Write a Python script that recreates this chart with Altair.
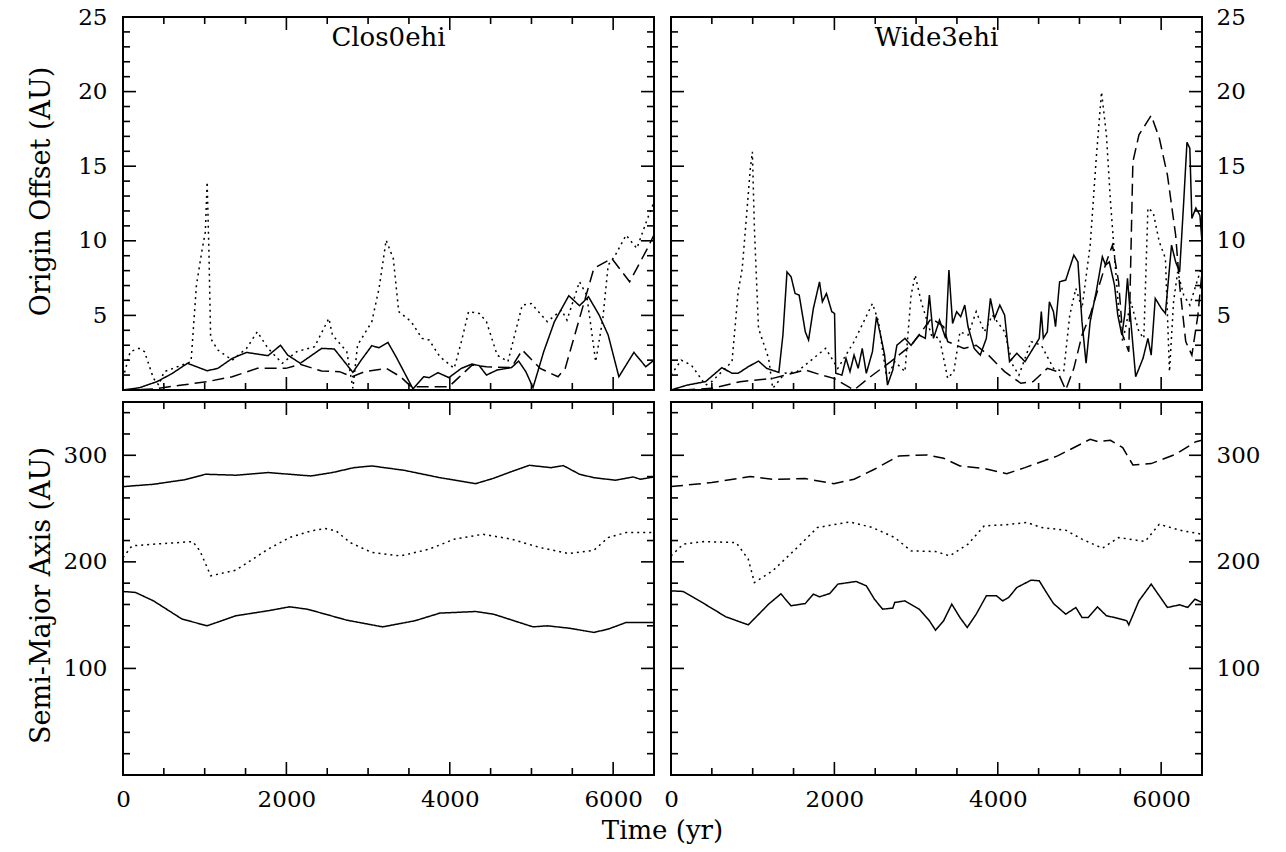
import altair as alt
import pandas as pd

# ---------------- data ----------------
X_DOMAIN = [0, 6500]
OFF_DOMAIN = [0, 25]
SMA_DOMAIN = [0, 350]

X_MAJOR = [0, 2000, 4000, 6000]
X_MINOR = [500, 1000, 1500, 2500, 3000, 3500, 4500, 5000, 5500, 6500]
OFF_MAJOR = [5, 10, 15, 20]
OFF_MINOR = [1, 2, 3, 4, 6, 7, 8, 9, 11, 12, 13, 14, 16, 17, 18, 19, 21, 22, 23, 24]
OFF_LABELS = [5, 10, 15, 20, 25]
SMA_MAJOR = [100, 200, 300]
SMA_MINOR = [20, 40, 60, 80, 120, 140, 160, 180, 220, 240, 260, 280, 320, 340]
SMA_LABELS = [100, 200, 300]

PANEL_TITLES = ["Clos0ehi", "Wide3ehi"]

# Clos0ehi, origin offset
C_OFF_SOLID_T = [0, 200, 416, 600, 789, 1030, 1161, 1337, 1512, 1775,
                 1928, 2016, 2170, 2432, 2586, 2814, 2915, 3046, 3134, 3243,
                 3353, 3550, 3682, 3747, 3857, 3989, 4142, 4273, 4361, 4449,
                 4580, 4755, 4843, 4931, 5019, 5150, 5281, 5457, 5588, 5698,
                 5829, 5939, 6070, 6158, 6254, 6399, 6500]
C_OFF_SOLID_V = [0, 0.15, 0.56, 1.1, 1.79, 1.29, 1.45, 2.12, 2.52, 2.3,
                 3.0, 2.34, 1.79, 2.79, 2.75, 1.18, 2.0, 2.97, 2.83, 3.19,
                 2.12, 0.07, 0.89, 0.83, 1.16, 0.83, 1.45, 1.74, 1.63, 1.0,
                 1.34, 1.5, 1.94, 1.23, 0.16, 2.57, 4.58, 6.32, 5.65, 6.25,
                 5.02, 3.68, 0.89, 1.67, 2.52, 1.56, 2.0]
C_OFF_DASH_T = [0, 373, 723, 1030, 1337, 1644, 1994, 2170, 2432, 2651,
                2805, 2958, 3221, 3397, 3528, 3660, 3989, 4098, 4273, 4449,
                4755, 4887, 5106, 5325, 5413, 5588, 5764, 5983, 6202, 6333,
                6421, 6500]
C_OFF_DASH_V = [0, 0.07, 0.33, 0.56, 0.89, 1.45, 1.45, 1.72, 1.27, 1.23,
                0.89, 1.23, 1.45, 0.89, 0.22, 0.22, 0.22, 0.78, 1.67, 1.56,
                1.5, 2.68, 1.45, 0.89, 1.45, 4.8, 8.15, 8.82, 7.25, 8.6,
                9.5, 10.4]
C_OFF_DOT_T = [0, 88, 197, 263, 373, 438, 504, 723, 833, 899,
               964, 1008, 1030, 1052, 1073, 1161, 1337, 1512, 1644, 1775,
               1950, 2126, 2345, 2520, 2564, 2739, 2814, 2871, 3046, 3134,
               3221, 3309, 3375, 3528, 3660, 3747, 3879, 4054, 4142, 4230,
               4361, 4449, 4580, 4712, 4887, 4997, 5194, 5369, 5435, 5588,
               5676, 5786, 5874, 5939, 6027, 6158, 6290, 6421, 6500]
C_OFF_DOT_V = [0.78, 2.57, 2.79, 2.57, 0.78, 0.33, 1.23, 1.67, 1.9, 7.03,
               9.26, 10.6, 13.95, 9.26, 3.46, 2.68, 2.0, 2.79, 3.9, 2.79,
               1.79, 2.57, 2.9, 4.8, 3.68, 2.57, 0.11, 3.0, 4.58, 6.8,
               10.04, 8.8, 5.25, 4.58, 3.46, 3.35, 2.23, 1.45, 3.24, 5.25,
               5.13, 4.58, 2.34, 1.9, 5.69, 5.8, 4.58, 5.36, 4.69, 7.25,
               6.36, 1.9, 4.8, 8.37, 9.04, 10.38, 9.49, 11.5, 12.6]

# Wide3ehi, origin offset
W_OFF_SOLID_T = [0, 199, 423, 623, 747, 822, 946, 1071, 1171, 1320,
                 1370, 1420, 1470, 1519, 1569, 1644, 1684, 1743, 1818, 1853,
                 1903, 1968, 2002, 2017, 2092, 2142, 2191, 2241, 2291, 2341,
                 2391, 2466, 2515, 2565, 2615, 2650, 2715, 2765, 2864, 2939,
                 3038, 3113, 3163, 3213, 3287, 3362, 3402, 3447, 3497, 3546,
                 3596, 3636, 3711, 3786, 3860, 3910, 3960, 4025, 4084, 4144,
                 4233, 4333, 4508, 4533, 4558, 4607, 4632, 4682, 4707, 4757,
                 4832, 4931, 4981, 5031, 5081, 5131, 5205, 5280, 5320, 5365,
                 5429, 5469, 5519, 5554, 5588, 5629, 5688, 5778, 5838, 5878,
                 5928, 6002, 6052, 6127, 6177, 6226, 6276, 6316, 6351, 6376,
                 6425, 6475, 6500]
W_OFF_SOLID_V = [0, 0.33, 0.56, 1.5, 1.12, 1.12, 1.56, 1.94, 1.45, 1.18,
                 3.68, 7.92, 7.59, 6.47, 6.36, 3.9, 3.35, 5.47, 7.25, 5.91,
                 6.47, 5.25, 5.13, 1.12, 1.0, 2.12, 1.23, 2.34, 1.45, 2.79,
                 1.12, 2.57, 4.91, 3.68, 2.34, 0.33, 1.34, 3.0, 3.46, 3.0,
                 3.68, 3.46, 6.36, 3.46, 4.69, 3.46, 8.04, 4.46, 5.25, 4.91,
                 5.69, 4.24, 2.79, 2.34, 3.46, 6.14, 4.8, 5.69, 5.02, 1.9,
                 2.46, 1.9, 3.46, 5.25, 3.46, 3.9, 5.91, 5.25, 4.24, 7.25,
                 7.37, 9.04, 8.59, 4.58, 1.79, 4.58, 6.58, 8.93, 8.37, 8.59,
                 7.03, 5.02, 3.68, 5.02, 7.48, 4.58, 0.89, 2.12, 3.46, 2.34,
                 6.14, 5.47, 5.13, 9.71, 8.59, 7.92, 12.6, 16.6, 16.2, 11.5,
                 12.2, 11.7, 9.93]
W_OFF_DASH_T = [149, 498, 847, 1245, 1644, 1843, 1993, 2241, 2441, 2690,
                2939, 3188, 3337, 3387, 3586, 3736, 3885, 4084, 4283, 4433,
                4607, 4732, 4832, 4931, 5031, 5131, 5230, 5330, 5404, 5479,
                5529, 5604, 5654, 5728, 5878, 5977, 6077, 6177, 6226, 6301,
                6376, 6450, 6500]
W_OFF_DASH_V = [0, 0.11, 0.56, 0.78, 1.34, 1.0, 0.78, 0, 0.89, 1.9,
                3.0, 4.8, 4.24, 3.24, 2.79, 3.0, 2.34, 1.23, 0.45, 0.56,
                1.45, 1.23, 0, 1.45, 3.68, 5.02, 6.81, 8.59, 9.71, 7.25,
                3.68, 2.57, 15.3, 17.1, 18.4, 16.9, 14.4, 10.4, 7.03, 3.24,
                2.34, 5.02, 7.92]
W_OFF_DOT_T = [0, 125, 249, 423, 498, 747, 822, 872, 922, 971,
               996, 1021, 1071, 1195, 1245, 1395, 1544, 1743, 1893, 2042,
               2241, 2466, 2540, 2640, 2740, 2864, 2939, 2989, 3063, 3188,
               3287, 3387, 3462, 3537, 3636, 3736, 3835, 3935, 4084, 4184,
               4259, 4408, 4533, 4682, 4807, 4881, 4956, 5031, 5131, 5205,
               5270, 5330, 5380, 5429, 5479, 5529, 5629, 5728, 5788, 5838,
               5903, 5977, 6052, 6102, 6152, 6202, 6276, 6351, 6425, 6490]
W_OFF_DOT_V = [1.0, 2.0, 1.67, 0.33, 0.56, 1.9, 6.58, 8.15, 11.5, 14.84,
               15.96, 10.8, 4.13, 2.12, 0.11, 1.12, 1.23, 2.12, 2.79, 1.45,
               3.24, 5.8, 4.58, 0.78, 1.9, 1.23, 6.36, 7.7, 5.91, 3.68,
               3.46, 0.78, 1.23, 3.9, 3.68, 5.25, 3.9, 5.02, 3.9, 1.67,
               1.0, 3.24, 3.0, 1.45, 1.23, 5.02, 6.81, 5.47, 9.71, 15.5,
               19.98, 17.1, 12.6, 9.04, 5.47, 3.24, 5.91, 3.9, 3.46, 12.2,
               11.9, 9.93, 8.82, 1.23, 5.91, 7.92, 6.36, 5.69, 7.03, 8.15]

# Clos0ehi, semi-major axis
C_SMA_TOP_T = [0, 373, 767, 1008, 1381, 1775, 2301, 2564, 2827, 3046,
               3441, 3879, 4317, 4536, 4755, 4975, 5238, 5391, 5588, 5764,
               6027, 6246, 6333, 6500]
C_SMA_TOP_V = [270.6, 272.8, 277.2, 282.2, 281.3, 283.8, 280.6, 283.8, 288.4, 290,
               285.9, 279, 273.4, 278.4, 284.7, 290.6, 288.4, 290.3, 282.2, 279,
               276.6, 279.7, 277.5, 279.7]
C_SMA_DOT_T = [0, 110, 373, 855, 942, 1074, 1381, 1556, 1775, 2038,
               2301, 2476, 2608, 2783, 3046, 3397, 3748, 4054, 4405, 4755,
               5106, 5457, 5764, 5939, 6158, 6500]
C_SMA_DOT_V = [204, 215, 216.6, 219, 210.3, 186.9, 192.2, 200.9, 211.9, 222.8,
               229, 231.3, 229, 218, 208.8, 205.6, 211.9, 221.3, 225.9, 221.3,
               213.4, 207.8, 210.9, 222.8, 227.5, 227.5]
C_SMA_SOLID_T = [0, 153, 373, 723, 1030, 1381, 1775, 2038, 2257, 2739,
                 3178, 3572, 3879, 4317, 4536, 5019, 5194, 5457, 5764, 5939,
                 6158, 6500]
C_SMA_SOLID_V = [172.2, 171.3, 163.4, 146.3, 140, 149.4, 154.1, 157.8, 155.6, 145.3,
                 139, 144.7, 151.9, 153.4, 150.9, 139, 140, 137.8, 133.8, 136.9,
                 143.1, 143.1]

# Wide3ehi, semi-major axis
W_SMA_DASH_T = [0, 498, 971, 1245, 1644, 1993, 2241, 2490, 2789, 3138,
                3337, 3537, 3835, 4109, 4333, 4732, 5131, 5230, 5380, 5529,
                5654, 5878, 6177, 6425, 6500]
W_SMA_DASH_V = [270.6, 274.4, 280, 277.5, 278.1, 273.4, 277.5, 286.9, 299.4, 300.3,
                297.2, 290, 287.5, 282.8, 288.4, 299.4, 315, 312.8, 314.1, 307.2,
                290.9, 292.2, 300.9, 312.8, 314.1]
W_SMA_DOT_T = [0, 149, 398, 797, 946, 1021, 1245, 1544, 1793, 2191,
               2465, 2739, 2939, 3238, 3412, 3636, 3835, 4084, 4358, 4533,
               4832, 5031, 5280, 5479, 5803, 5977, 6226, 6500]
W_SMA_DOT_V = [205.6, 216.6, 219, 218.1, 202.5, 180.6, 191.6, 213.4, 232.2, 237.5,
               232.2, 222.8, 210.3, 209.7, 205.6, 216.6, 233.8, 234.7, 236.9, 232.2,
               229.7, 221.3, 212.8, 222.8, 219.1, 235.3, 229.7, 225.9]
W_SMA_SOLID_T = [0, 149, 349, 672, 946, 1195, 1345, 1469, 1644, 1743,
                 1818, 1943, 2042, 2266, 2391, 2490, 2590, 2715, 2739, 2864,
                 3038, 3163, 3238, 3337, 3437, 3537, 3626, 3736, 3860, 3985,
                 4059, 4134, 4233, 4408, 4508, 4583, 4682, 4832, 4956, 5031,
                 5106, 5220, 5330, 5429, 5579, 5604, 5728, 5878, 6077, 6226,
                 6326, 6415, 6500]
W_SMA_SOLID_V = [172.8, 172.2, 163.4, 148.4, 140.9, 160.3, 170, 158.8, 160.9, 169.7,
                 167.2, 170.3, 179.1, 181.6, 177.5, 165, 155.6, 156.6, 161.9, 163.4,
                 155.6, 144.7, 135.9, 144.7, 160.3, 147.8, 138.4, 150.9, 168.1, 168.1,
                 163.4, 166.6, 175.9, 182.8, 182.2, 172.8, 160.9, 150.9, 157.2, 147.8,
                 147.8, 157.8, 149.4, 147.8, 144.7, 140.9, 163.4, 179.1, 157.2, 159.7,
                 157.2, 165, 161.9]

# ---------------- styling ----------------
W, H = 531, 373
FONT = "DejaVu Serif"
FS_TICK = 23
FS_TITLE = 26
FS_YTITLE = 27
MAJ, MIN = 13, 7
SOLID, DASHED, DOTTED = [1, 0], [12, 6], [2, 4]


def panel(series, ydomain, ylabels, ymajor, yminor, side, ytitle, ytitle_y,
          show_x, xtitle, name):
    xscale = alt.Scale(domain=X_DOMAIN, nice=False, zero=False)
    yscale = alt.Scale(domain=ydomain, nice=False, zero=False)
    yaxis_kw = dict(values=ylabels, orient=side, tickSize=0, domain=False, grid=False,
                    labelFont=FONT, labelFontSize=FS_TICK, labelColor="black", format="d",
                    labelPadding=16 if side == "left" else 14, labelFlush=False)
    if ytitle:
        yaxis_kw.update(title=ytitle, titleFont=FONT, titleFontSize=FS_YTITLE,
                        titleFontWeight="normal", titleColor="black", titleX=-82,
                        titleY=ytitle_y, titleBaseline="middle", titleAngle=-90)
    else:
        yaxis_kw.update(title=None)
    yaxis = alt.Axis(**yaxis_kw)
    if show_x:
        xkw = dict(values=X_MAJOR, orient="bottom", tickSize=0, domain=False, grid=False,
                   labelFont=FONT, labelFontSize=FS_TICK, labelColor="black", labelPadding=13,
                   labelFlush=False, format="d")
        if xtitle:
            xkw.update(title=xtitle, titleFont=FONT, titleFontSize=FS_TITLE,
                       titleFontWeight="normal", titleColor="black",
                       titleX=539, titleY=55, titleBaseline="middle")
        else:
            xkw.update(title=None)
        xaxis = alt.Axis(**xkw)
    else:
        xaxis = None

    X = lambda: alt.X("t:Q", scale=xscale, axis=xaxis)
    Y = lambda: alt.Y("v:Q", scale=yscale, axis=yaxis)

    layers = []
    for ts, vs, dash in series:
        df = pd.DataFrame({"t": ts, "v": vs})
        layers.append(alt.Chart(df).mark_line(
            color="black", strokeWidth=1.5, strokeDash=dash, clip=True, strokeCap="butt"
        ).encode(x=X(), y=Y()))
    # inward ticks on all four sides
    for vals, ln in ((X_MAJOR, MAJ), (X_MINOR, MIN)):
        df = pd.DataFrame({"t": vals})
        for y0, y1 in ((H, H - ln), (0, ln)):
            layers.append(alt.Chart(df).mark_rule(color="black", strokeWidth=1.6).encode(
                x=X(), y=alt.value(y0), y2=alt.value(y1)))
    for vals, ln in ((ymajor, MAJ), (yminor, MIN)):
        df = pd.DataFrame({"v": vals})
        for x0, x1 in ((0, ln), (W, W - ln)):
            layers.append(alt.Chart(df).mark_rule(color="black", strokeWidth=1.6).encode(
                y=Y(), x=alt.value(x0), x2=alt.value(x1)))
    if name:
        layers.append(alt.Chart(pd.DataFrame({"n": [name]})).mark_text(
            font=FONT, fontSize=FS_TITLE, color="black", baseline="middle", align="center"
        ).encode(text="n:N", x=alt.value(W / 2), y=alt.value(21)))
    return alt.layer(*layers).properties(width=W, height=H)


tl = panel([(C_OFF_SOLID_T, C_OFF_SOLID_V, SOLID), (C_OFF_DASH_T, C_OFF_DASH_V, DASHED),
            (C_OFF_DOT_T, C_OFF_DOT_V, DOTTED)],
           OFF_DOMAIN, OFF_LABELS, OFF_MAJOR, OFF_MINOR, "left", "Origin Offset  (AU)", 174,
           False, None, PANEL_TITLES[0])
tr = panel([(W_OFF_SOLID_T, W_OFF_SOLID_V, SOLID), (W_OFF_DASH_T, W_OFF_DASH_V, DASHED),
            (W_OFF_DOT_T, W_OFF_DOT_V, DOTTED)],
           OFF_DOMAIN, OFF_LABELS, OFF_MAJOR, OFF_MINOR, "right", None, None,
           False, None, PANEL_TITLES[1])
bl = panel([(C_SMA_TOP_T, C_SMA_TOP_V, SOLID), (C_SMA_DOT_T, C_SMA_DOT_V, DOTTED),
            (C_SMA_SOLID_T, C_SMA_SOLID_V, SOLID)],
           SMA_DOMAIN, SMA_LABELS, SMA_MAJOR, SMA_MINOR, "left", "Semi-Major Axis (AU)", 193,
           True, "Time (yr)", None)
br = panel([(W_SMA_DASH_T, W_SMA_DASH_V, DASHED), (W_SMA_DOT_T, W_SMA_DOT_V, DOTTED),
            (W_SMA_SOLID_T, W_SMA_SOLID_V, SOLID)],
           SMA_DOMAIN, SMA_LABELS, SMA_MAJOR, SMA_MINOR, "right", None, None,
           True, None, None)

chart = alt.concat(tl, tr, bl, br, columns=2, spacing={"row": 12, "column": 17},
                   bounds="flush").resolve_scale(x="independent", y="independent").properties(
    padding={"left": 26, "top": 5, "right": 5, "bottom": 5}
).configure_view(stroke="black", strokeWidth=2)

chart.save("out.html", embed_options={"renderer": "svg", "actions": False})
